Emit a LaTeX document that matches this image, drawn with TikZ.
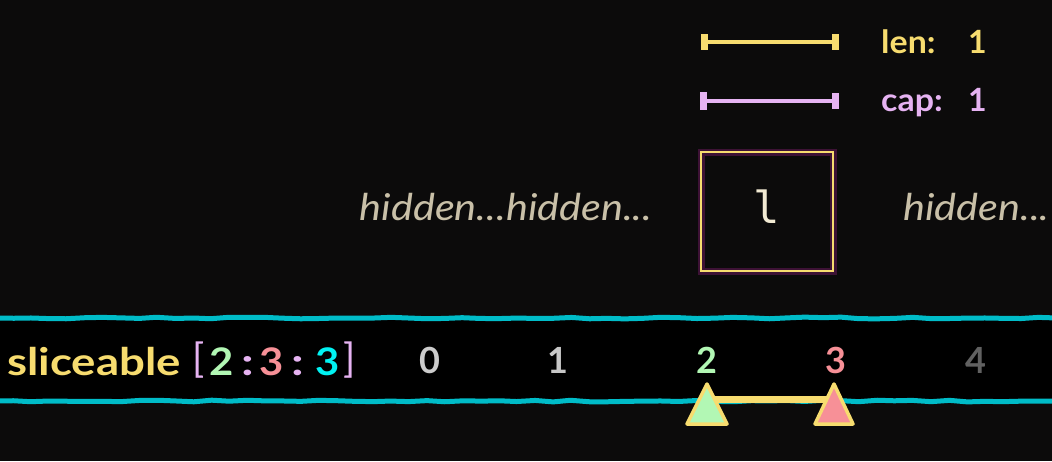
\documentclass[tikz,border=0pt]{standalone}
\usepackage{fontspec}
\usetikzlibrary{decorations.pathmorphing}
\setmainfont{Lato}
\newfontfamily\monof{DejaVu Sans Mono}
\definecolor{bg}{HTML}{0C0B0B}
\definecolor{cyanline}{HTML}{00BCC8}
\definecolor{yel}{HTML}{F7DC6F}
\definecolor{lila}{HTML}{E6B3F2}
\definecolor{grn}{HTML}{B2F7B4}
\definecolor{pnk}{HTML}{F79097}
\definecolor{cyn}{HTML}{00F2F2}
\definecolor{hid}{HTML}{C9C0A8}
\definecolor{chr}{HTML}{F2EAD3}
\definecolor{glow}{HTML}{4A1440}
\newcommand{\wide}[2]{\scalebox{#1}[1]{#2}}
\tikzset{
  lbl/.style={font=\fontsize{32}{34}\selectfont\bfseries, anchor=base west, inner sep=0pt},
  idx/.style={font=\fontsize{36}{38}\selectfont\bfseries, anchor=base, inner sep=0pt},
  slc/.style={font=\fontsize{38}{40}\selectfont\bfseries, anchor=base, inner sep=0pt},
  hidtxt/.style={font=\fontsize{37}{40}\selectfont\itshape, text=hid, inner sep=0pt},
  bar/.style={line width=4pt, line cap=round},
  tick/.style={line width=7pt},
  band/.style={cyanline, line width=5pt, decorate, decoration={random steps, segment length=18pt, amplitude=0.9pt}},
  marker/.style={draw=yel, line width=3.5pt, line join=round},
}
\begin{document}
\begin{tikzpicture}[x=1pt,y=-1pt]
\fill[bg] (0,0) rectangle (1052,461);
\useasboundingbox (0,0) rectangle (1052,461);
% band
\fill[black] (0,318) rectangle (1052,401);
\draw[band] (-5,318) -- (1057,318);
\draw[band] (-5,401) -- (1057,401);
% len / cap bars
\coordinate (l1) at (704,42); \coordinate (l2) at (836,42);
\draw[yel,bar] (l1) -- (l2);
\draw[yel,tick] (704,34) -- (704,50);
\draw[yel,tick] (835,34) -- (835,50);
\node[lbl,text=yel] (len) at (881,53) {\wide{1.06}{len:}};
\node[lbl,text=yel] (lenv) at (968,53) {1};
\coordinate (c1) at (703,101); \coordinate (c2) at (836,101);
\draw[lila,bar] (c1) -- (c2);
\draw[lila,tick] (703,92) -- (703,110);
\draw[lila,tick] (835,93) -- (835,109);
\node[lbl,text=lila] (cap) at (881,111) {\wide{1.06}{cap:}};
\node[lbl,text=lila] (capv) at (968,111) {1};
% box
\draw[glow, line width=7pt, opacity=0.8] (701,152) rectangle (833,271);
\draw[yel, line width=2pt] (701,152) rectangle (833,271);
\node[font=\monof\fontsize{44}{46}\selectfont, text=chr, inner sep=0pt, anchor=base] (ch) at (767,223) {l};
\node[hidtxt] (h1) at (506,207) {\wide{1.12}{hidden...hidden...}};
\node[hidtxt, anchor=west] (h2) at (903,207) {\wide{1.12}{hidden...}};
% label
\node[slc, anchor=base west, text=yel] (sl) at (7,375) {\wide{1.2}{sliceable}};
\node[font=\fontsize{40}{42}\selectfont, text=lila, inner sep=0pt] (b1) at (199,360) {[};
\node[slc, text=grn] (s1) at (222,375) {\wide{1.1}{2}};
\node[slc, text=lila] (k1) at (248,375) {\wide{1.3}{:}};
\node[slc, text=pnk] (s2) at (272,375) {\wide{1.1}{3}};
\node[slc, text=lila] (k2) at (298,375) {\wide{1.3}{:}};
\node[slc, text=cyn] (s3) at (328,375) {\wide{1.1}{3}};
\node[font=\fontsize{40}{42}\selectfont, text=lila, inner sep=0pt] (b2) at (350,360) {]};
% indices
\node[idx,text=black!20] (i0) at (430,373) {0};
\node[idx,text=black!22] (i1) at (558,373) {1};
\node[idx,text=grn] (i2) at (707,373) {2};
\node[idx,text=pnk] (i3) at (836,373) {3};
\node[idx,text=black!62] (i4) at (976,373) {4};
% markers
\coordinate (m2) at (707,384); \coordinate (m3) at (834,384);
\draw[yel, line width=7pt] (712,399) -- (828,399);
\draw[marker, fill=grn] (m2) -- (727,424) -- (687,424) -- cycle;
\draw[marker, fill=pnk] (m3) -- (853,424) -- (815,424) -- cycle;
\end{tikzpicture}
\end{document}
